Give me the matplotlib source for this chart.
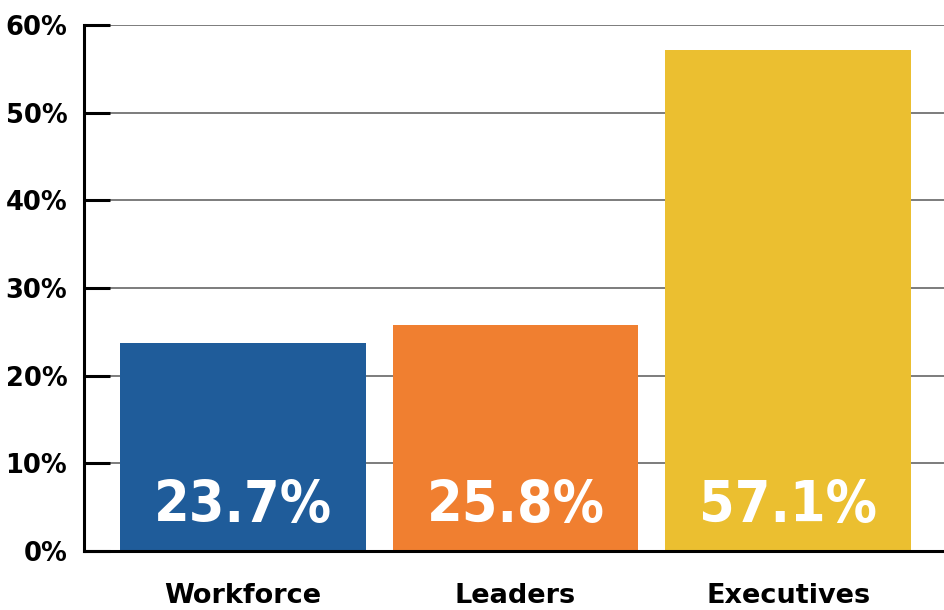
import matplotlib
matplotlib.use("Agg")
import matplotlib.pyplot as plt

categories = ["Workforce", "Leaders", "Executives"]
values = [23.7, 25.8, 57.1]
colors = ["#1f5c9a", "#f07f30", "#ebbf30"]
yticks = [0, 10, 20, 30, 40, 50, 60]

fig = plt.figure(figsize=(9.44, 6.10), dpi=100)
ax = fig.add_axes([84/944, 59/610, 1 - 84/944, (551-25)/610])

x = range(len(categories))
ax.bar(x, values, width=0.9, color=colors, zorder=3)
for i, v in enumerate(values):
    ax.text(i, 5.1, f"{v:.1f}%", ha="center", va="center", color="white",
            fontsize=41, fontweight="bold", family="DejaVu Sans",
            fontstretch="condensed", zorder=4)

ax.set_xlim(-0.583, 2.572)
ax.set_ylim(0, 60)
ax.set_yticks(yticks)
ax.set_yticklabels([f"{t}%" for t in yticks], fontsize=18.5, fontweight="bold")
ax.set_xticks(list(x))
ax.set_xticklabels(categories, fontsize=19.5, fontweight="bold")
ax.tick_params(axis="y", direction="in", length=19, width=2.2, color="black", pad=12)
ax.tick_params(axis="x", length=0, pad=23)
ax.yaxis.grid(True, color="#666666", linewidth=1.2, zorder=1)
for s in ["top", "right"]:
    ax.spines[s].set_visible(False)
for s in ["left", "bottom"]:
    ax.spines[s].set_linewidth(2.2)
    ax.spines[s].set_zorder(5)

fig.savefig("out.png", dpi=100)
